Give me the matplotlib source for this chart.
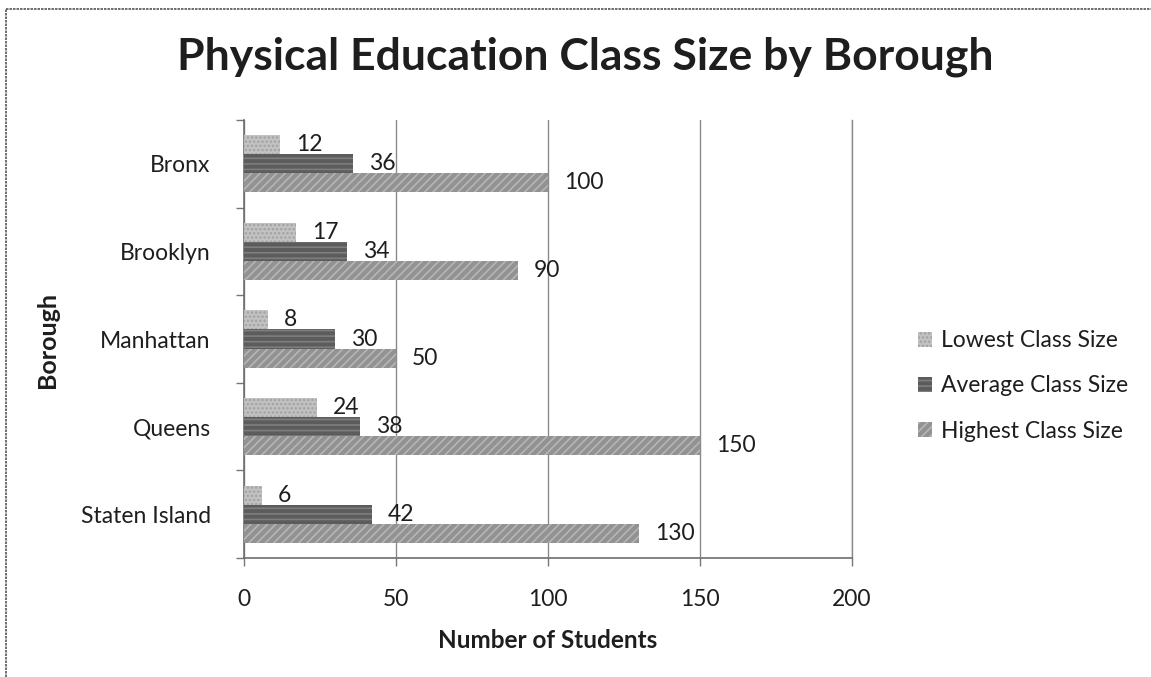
import numpy as np
import matplotlib
matplotlib.use("Agg")
import matplotlib.pyplot as plt
from matplotlib.lines import Line2D
from matplotlib.patches import Patch

plt.rcParams['font.family'] = ['Lato', 'DejaVu Sans']
plt.rcParams['hatch.linewidth'] = 1.2

boroughs = ["Bronx", "Brooklyn", "Manhattan", "Queens", "Staten Island"]
lowest = [12, 17, 8, 24, 6]
average = [36, 34, 30, 38, 42]
highest = [100, 90, 50, 150, 130]
series_names = ["Lowest Class Size", "Average Class Size", "Highest Class Size"]
x_ticks = [0, 50, 100, 150, 200]

# grey fills with a texture, lowest / average / highest
fills = ['#c2c2c2', '#5c5c5c', '#929292']
hatch_cols = ['#a2a2a2', '#7e7e7e', '#b6b6b6']
hatches = ['....', '---', '////']

W, H = 1151, 677
fig = plt.figure(figsize=(W / 100, H / 100), dpi=100)
ax = fig.add_axes([244 / W, 1 - 558 / H, 608 / W, 438 / H])

y = np.arange(len(boroughs))
bh = 0.218
offsets = [-bh, 0, bh]
txt = '#1e1e1e'

for vals, off, fc, hc, ht in zip([lowest, average, highest], offsets, fills, hatch_cols, hatches):
    bars = ax.barh(y + off, vals, height=bh, color=fc, edgecolor=hc, hatch=ht,
                   linewidth=0, zorder=3)
    for b, v in zip(bars, vals):
        ax.annotate(str(v), (v, b.get_y() + b.get_height() / 2),
                    xytext=(16, 0), textcoords='offset pixels',
                    ha='left', va='center', fontsize=16.5, color=txt, zorder=4)

ax.set_xlim(0, 200)
ax.set_ylim(len(boroughs) - 0.5, -0.5)
ax.set_xticks(x_ticks)
ax.set_yticks(y)
ax.set_yticklabels(boroughs)
ax.set_yticks(np.arange(len(boroughs) + 1) - 0.5, minor=True)
ax.tick_params(axis='x', direction='out', length=6, width=1, color='#777777',
               labelsize=16.5, labelcolor=txt, pad=16)
ax.tick_params(axis='y', which='major', length=0, labelsize=16.5,
               labelcolor=txt, pad=24)
ax.tick_params(axis='y', which='minor', direction='out', length=6, width=1,
               color='#777777')
ax.grid(axis='x', color='#8a8a8a', linewidth=1, zorder=0)
ax.spines['top'].set_visible(False)
ax.spines['right'].set_color('#8a8a8a')
ax.spines['right'].set_linewidth(1)
for s in ['left', 'bottom']:
    ax.spines[s].set_color('#6e6e6e')
    ax.spines[s].set_linewidth(1.2)

ax.set_xlabel("Number of Students", fontsize=17.5, fontweight='bold', color=txt,
              labelpad=14)
ax.set_ylabel("Borough", fontsize=18, fontweight='bold', color=txt)
ax.yaxis.set_label_coords(59 / W, 1 - 340 / H, transform=fig.transFigure)

fig.text(585 / W, 1 - 57 / H, "Physical Education Class Size by Borough",
         ha='center', va='center', fontsize=32, fontweight='bold', color=txt)

handles = [Patch(facecolor=fc, edgecolor=hc, hatch=ht, linewidth=0)
           for fc, hc, ht in zip(fills, hatch_cols, hatches)]
fig.legend(handles, series_names, loc='center left',
           bbox_to_anchor=(907 / W, 1 - 386 / H), frameon=False,
           fontsize=16.5, handlelength=0.6, handleheight=0.6,
           handletextpad=0.4, labelspacing=1.05, borderpad=0,
           labelcolor=txt)

# outer chart border (left and top edges)
fig.add_artist(Line2D([6 / W, 6 / W], [0, 1 - 9 / H], color='#555555',
                      linewidth=1.2, linestyle=(0, (1.5, 0.6))))
fig.add_artist(Line2D([6 / W, 1], [1 - 9 / H, 1 - 9 / H], color='#555555',
                      linewidth=1.2, linestyle=(0, (1.5, 0.6))))

fig.savefig("out.png", dpi=100)
